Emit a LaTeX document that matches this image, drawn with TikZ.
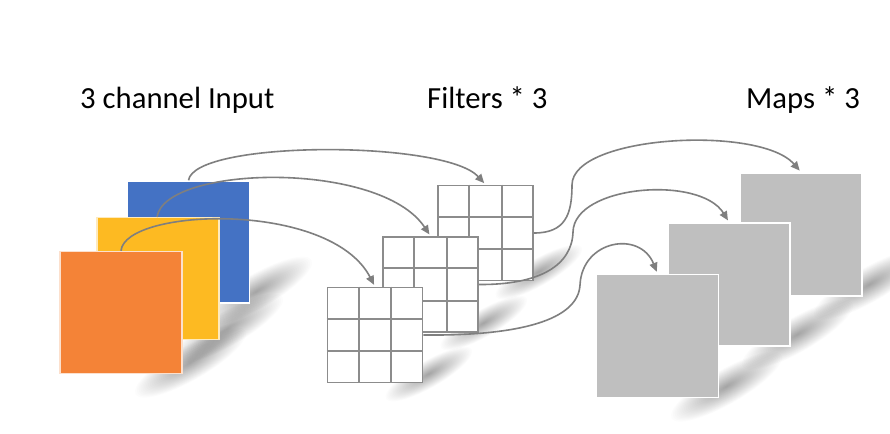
\documentclass[tikz,border=0pt]{standalone}
\usepackage{fontspec}
\setmainfont{Carlito}
\usetikzlibrary{arrows.meta,calc}
\definecolor{inblue}{HTML}{4472C4}
\definecolor{inyellow}{HTML}{FDBA22}
\definecolor{inorange}{HTML}{F48337}
\definecolor{mapgray}{HTML}{BFBFBF}
\definecolor{gridgray}{HTML}{8C8C8C}
\definecolor{arrgray}{HTML}{7F7F7F}
\newcommand\softshadow[3]{%
  \begin{scope}[shift={(#1,#2)},rotate=30]
    \foreach \k in {0,...,29}{
      \pgfmathsetmacro\sf{1-\k/30}
      \fill[black,opacity=0.013] ({0.1*#3},{-0.05*#3}) ellipse ({0.52*#3*\sf} and {0.14*#3*\sf});
    }
  \end{scope}}
\begin{document}
\begin{tikzpicture}[x=1pt,y=-1pt,
  insq/.style={draw=white,line width=1.5pt,inner sep=0pt,minimum width=122pt,minimum height=122pt},
  filt/.style={draw=gridgray,fill=white,line width=1.8pt,inner sep=0pt,minimum width=95pt,minimum height=95pt},
  gridln/.style={draw=gridgray,line width=1.8pt},
  mapsq/.style={draw=white,fill=mapgray,line width=1.8pt,inner sep=0pt,minimum width=122pt,minimum height=123pt},
  arr/.style={draw=arrgray,line width=1.6pt,-{Triangle[length=9pt,width=8pt]},shorten >=2pt},
  lbl/.style={anchor=base west,inner sep=0pt,font=\fontsize{30.7}{36}\selectfont}]
\useasboundingbox (0,0) rectangle (890,433);
\fill[white] (0,0) rectangle (890,433);

% titles
\node[lbl] (tin) at (80,108) {3 channel Input};
\node[lbl] (tfi) at (427,108) {Filters * 3};
\node[lbl] (tma) at (746,108) {Maps * 3};

% shadows
\softshadow{249}{303}{122}
\softshadow{220}{340}{122}
\softshadow{183}{374}{122}
\softshadow{533}{281}{95}
\softshadow{478}{332}{95}
\softshadow{423}{383}{95}
\softshadow{862}{296}{122}
\softshadow{790}{346}{122}
\softshadow{719}{398}{122}

% input channels
\node[insq,fill=inblue] (blue) at (188.5,242) {};
\node[insq,fill=inyellow,draw=inyellow!30] (yellow) at (158,278.5) {};
\node[insq,fill=inorange,draw=inorange!25] (orange) at (121,312.5) {};

% filters
\foreach \f/\c in {f1/{(485.5,233)},f2/{(430.5,284.5)},f3/{(375,335)}}{
  \node[filt] (\f) at \c {};
  \draw[gridln] ($(\f.north west)!1/3!(\f.north east)$) -- ($(\f.south west)!1/3!(\f.south east)$);
  \draw[gridln] ($(\f.north west)!2/3!(\f.north east)$) -- ($(\f.south west)!2/3!(\f.south east)$);
  \draw[gridln] ($(\f.north west)!1/3!(\f.south west)$) -- ($(\f.north east)!1/3!(\f.south east)$);
  \draw[gridln] ($(\f.north west)!2/3!(\f.south west)$) -- ($(\f.north east)!2/3!(\f.south east)$);
}

% maps
\node[mapsq] (m1) at (801,234.5) {};
\node[mapsq] (m2) at (729,284.5) {};
\node[mapsq] (m3) at (657.5,336) {};

% input -> filter arrows
\draw[arr] (blue.north) .. controls (195,140) and (445,140) .. (f1.north);
\draw[arr] (157,217) .. controls (165,165) and (380,160) .. (f2.north);
\draw[arr] (orange.north) .. controls (125,208) and (330,200) .. (f3.north);

% filter -> map arrows
\draw[arr] (f1.east) .. controls (565,233) and (572,215) .. (572,185)
  .. controls (572,135) and (760,125) .. (m1.north);
\draw[arr] (f2.east) .. controls (540,285) and (572,265) .. (573,232)
  .. controls (574,185) and (700,175) .. (m2.north);
\draw[arr] (f3.east) .. controls (520,336) and (578,320) .. (580,285)
  .. controls (582,240) and (640,230) .. (m3.north);
\end{tikzpicture}
\end{document}
